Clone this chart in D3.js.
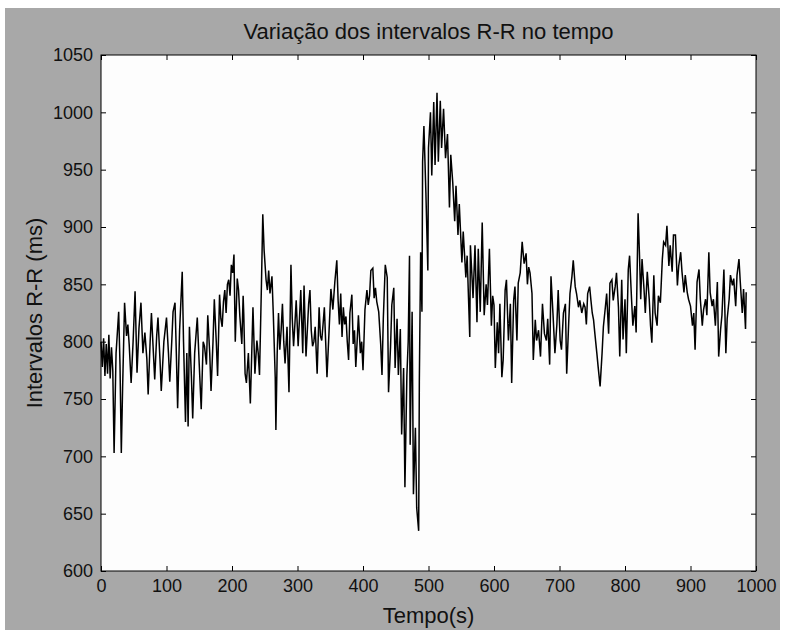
<!DOCTYPE html>
<html>
<head>
<meta charset="utf-8">
<script src="https://cdn.jsdelivr.net/npm/d3@7"></script>
<style>
  body { margin: 0; background: #fff; }
  text { font-family: "Liberation Sans", Arial, sans-serif; fill: #111; }
</style>
</head>
<body>
<div id="chart"></div>
<script>
(function () {
  // tempo (s) e intervalos R-R (ms)
  const tempo = [
    0,2,4,6,8,10,12,14,16,18,20,23,27,29,31,33,36,39,41,43,46,49,52,55,58,61,64,67,70,72,
    75,77,80,82,85,87,90,92,96,100,103,105,108,110,113,115,117,120,124,126,129,131,133,135,138,140,143,147,150,153,
    156,158,161,163,166,168,171,173,176,178,181,183,185,187,189,191,193,195,197,199,201,203,205,
    208,210,212,215,217,218,220,222,225,228,230,232,235,238,240,242,245,247,249,252,254,256,258,261,263,266,
    267,269,271,273,275,277,279,281,284,287,290,292,294,296,298,301,303,305,308,310,313,315,317,319,321,323,325,327,330,333,
    335,337,339,341,343,345,348,351,354,357,360,362,364,366,368,370,372,374,376,378,380,383,385,387,389,391,393,396,398,400,
    403,406,408,410,412,415,417,419,421,424,427,429,431,434,437,439,442,444,447,449,452,454,457,459,462,464,467,469,471,472,
    475,477,480,482,485,486,488,490,491,493,496,499,500,503,505,508,510,513,515,518,520,523,526,529,532,534,537,540,542,545,
    547,551,553,557,559,563,564,568,571,574,576,579,582,585,588,590,593,596,598,600,602,605,607,609,612,614,617,619,622,625,
    627,630,632,635,637,640,643,646,649,651,653,655,658,660,663,665,668,671,674,677,680,682,685,687,690,693,696,698,701,703,
    706,709,711,714,716,719,721,724,726,729,731,734,737,739,741,743,746,748,750,752,754,757,759,762,765,767,770,772,775,777,
    780,782,785,787,790,792,795,797,800,802,805,807,810,812,815,817,820,822,824,826,829,831,834,837,839,841,844,846,849,851,
    854,857,859,862,864,867,869,872,874,877,880,882,885,887,890,892,895,897,900,903,905,907,910,913,915,918,920,923,925,928,
    930,933,935,938,941,943,946,948,951,954,956,959,961,964,966,969,971,974,976,979,981,984,985
  ];
  const intervalos = [
    800,778,803,770,798,772,806,768,795,775,703,790,826,780,703,760,834,805,815,798,764,800,844,773,812,834,790,808,785,754,
    800,825,790,767,805,821,785,757,800,821,790,765,800,826,834,790,742,810,861,800,730,790,726,813,770,733,790,821,780,741,
    800,796,780,823,790,757,800,837,800,770,841,820,813,835,845,825,850,854,840,867,860,876,800,
    855,845,822,798,840,823,772,764,790,746,787,830,772,801,790,771,851,911,880,854,845,862,842,857,825,769,
    723,790,825,793,810,833,800,781,813,756,867,820,796,815,836,796,820,845,790,849,787,810,833,845,810,796,800,813,772,830,
    805,801,815,830,800,769,807,846,828,852,871,836,815,842,804,830,815,822,800,784,825,841,798,810,778,800,823,790,800,775,
    828,845,832,840,862,864,838,847,835,826,798,771,820,867,856,756,795,832,847,777,820,771,811,719,777,673,771,800,875,710,
    826,667,725,655,635,765,878,826,957,988,930,862,969,1000,945,1009,954,1017,957,1010,969,1003,960,981,917,963,939,905,936,893,
    920,869,896,856,875,804,884,838,884,817,881,826,904,823,850,832,881,814,840,832,777,817,790,833,769,784,845,854,801,833,
    764,836,848,801,851,860,887,868,877,850,865,860,842,784,819,801,810,787,833,807,801,820,780,857,825,790,815,845,801,793,
    825,833,772,816,842,857,871,848,842,830,836,825,833,830,815,842,848,836,825,819,807,790,778,761,790,813,830,842,807,851,
    854,836,848,860,830,787,854,802,837,790,863,875,837,814,831,808,912,878,837,872,846,825,861,837,814,799,858,825,814,840,
    834,872,887,884,901,866,884,861,893,893,849,866,878,861,843,858,843,837,831,814,825,793,852,863,837,814,828,837,823,878,
    843,831,837,814,852,787,811,823,863,790,820,837,858,849,855,831,858,872,852,825,846,811,843
  ];
  const xTicks = [0, 100, 200, 300, 400, 500, 600, 700, 800, 900, 1000];
  const yTicks = [600, 650, 700, 750, 800, 850, 900, 950, 1000, 1050];

  const w = 785;
  const h = 630;
  const left = 101, right = 756, top = 55, bottom = 571;
  const tick = 5;

  const svg = d3.select("#chart")
    .append("svg")
    .attr("width", w)
    .attr("height", h);

  // fundo cinzento da figura
  svg.append("rect")
    .attr("x", 5).attr("y", 8)
    .attr("width", 775).attr("height", 622)
    .attr("fill", "#a8a8a8");

  svg.append("rect")
    .attr("x", left).attr("y", top)
    .attr("width", right - left).attr("height", bottom - top)
    .attr("fill", "#fdfdfd");

  const xScale = d3.scaleLinear().domain([0, 1000]).range([left, right]);
  const yScale = d3.scaleLinear().domain([600, 1050]).range([bottom, top]);

  const data = tempo.map((t, i) => [t, intervalos[i]]);

  const line = d3.line()
    .x((d) => xScale(d[0]))
    .y((d) => yScale(d[1]));

  svg.append("path")
    .datum(data)
    .attr("fill", "none")
    .attr("stroke", "#000")
    .attr("stroke-width", 1.5)
    .attr("d", line);

  const tickFont = "18px";
  const labelFont = "22px";

  const styleAxis = (g) => {
    g.select(".domain").remove();
    g.selectAll(".tick line").attr("stroke", "#000");
    g.selectAll("text").style("font-size", tickFont).attr("fill", "#111");
  };

  svg.append("g")
    .attr("transform", `translate(0, ${bottom})`)
    .call(d3.axisBottom(xScale).tickValues(xTicks).tickSize(-tick).tickPadding(8).tickFormat(d3.format("d")))
    .call(styleAxis);

  svg.append("g")
    .attr("transform", `translate(${left}, 0)`)
    .call(d3.axisLeft(yScale).tickValues(yTicks).tickSize(-tick).tickPadding(8).tickFormat(d3.format("d")))
    .call(styleAxis);

  svg.append("g")
    .attr("transform", `translate(0, ${top})`)
    .call(d3.axisTop(xScale).tickValues(xTicks).tickSize(-tick).tickFormat(""))
    .call(styleAxis);

  svg.append("g")
    .attr("transform", `translate(${right}, 0)`)
    .call(d3.axisRight(yScale).tickValues(yTicks).tickSize(-tick).tickFormat(""))
    .call(styleAxis);

  svg.append("rect")
    .attr("x", left).attr("y", top)
    .attr("width", right - left).attr("height", bottom - top)
    .attr("fill", "none")
    .attr("stroke", "#000")
    .attr("stroke-width", 1);

  svg.append("text")
    .attr("x", (left + right) / 2)
    .attr("y", 39)
    .attr("text-anchor", "middle")
    .style("font-size", labelFont)
    .text("Variação dos intervalos R-R no tempo");

  svg.append("text")
    .attr("x", (left + right) / 2)
    .attr("y", 623)
    .attr("text-anchor", "middle")
    .style("font-size", labelFont)
    .text("Tempo(s)");

  svg.append("text")
    .attr("transform", `translate(42, ${(top + bottom) / 2}) rotate(-90)`)
    .attr("text-anchor", "middle")
    .style("font-size", labelFont)
    .text("Intervalos R-R (ms)");
})();
</script>
</body>
</html>
